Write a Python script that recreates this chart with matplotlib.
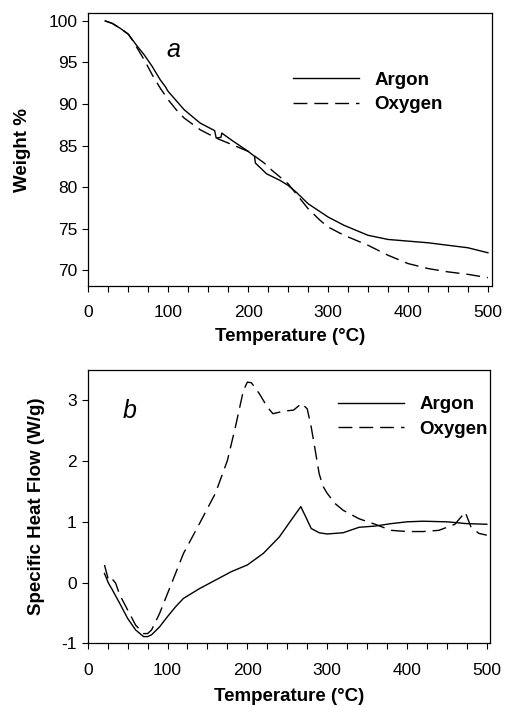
import numpy as np
import matplotlib
matplotlib.use("Agg")
import matplotlib.pyplot as plt

plt.rcParams['font.family'] = ['Liberation Sans', 'DejaVu Sans']
plt.rcParams['axes.unicode_minus'] = False

# TGA: weight loss vs temperature
tga_temp_ar = [21, 30, 40, 50, 60, 70, 80, 90, 97, 98, 100, 120, 140, 158, 160, 166, 167, 180, 200, 208, 209,
               223, 240, 250, 260, 275, 300, 320, 350, 375, 400, 425, 450, 475, 500]
tga_wt_ar = [100.0, 99.7, 99.1, 98.4, 97.1, 95.9, 94.5, 92.9, 92.0, 91.8, 91.5, 89.3, 87.7, 86.8, 85.9, 86.0, 86.5,
             85.6, 84.3, 83.7, 82.9, 81.6, 80.8, 80.2, 79.4, 78.0, 76.4, 75.4, 74.2, 73.7, 73.5, 73.3, 73.0, 72.7, 72.1]

tga_temp_ox = [21, 30, 40, 50, 55, 60, 70, 80, 90, 100, 110, 120, 140, 160, 180, 200, 220, 230, 240, 250, 260,
               275, 290, 300, 320, 350, 375, 400, 425, 450, 475, 500]
tga_wt_ox = [100.0, 99.7, 99.1, 98.4, 97.7, 96.9, 95.3, 93.5, 91.9, 90.5, 89.3, 88.3, 86.9, 85.9, 85.1, 84.3,
             82.9, 82.0, 81.2, 80.4, 79.2, 77.4, 76.0, 75.2, 74.2, 73.0, 71.8, 70.8, 70.2, 69.8, 69.5, 69.1]

# DSC: specific heat flow vs temperature
dsc_temp_ar = [21, 26, 30, 40, 50, 60, 70, 75, 80, 90, 100, 110, 120, 140, 160, 180, 200, 220, 240, 255, 267,
               275, 280, 290, 300, 320, 340, 360, 380, 400, 420, 450, 475, 500]
dsc_hf_ar = [0.15, -0.01, -0.10, -0.34, -0.59, -0.78, -0.89, -0.89, -0.86, -0.73, -0.56, -0.40, -0.26, -0.10,
             0.04, 0.18, 0.29, 0.48, 0.75, 1.03, 1.25, 1.03, 0.89, 0.82, 0.80, 0.82, 0.91, 0.93, 0.97, 1.00,
             1.01, 1.00, 0.97, 0.96]

dsc_temp_ox = [21, 26, 30, 35, 40, 50, 60, 70, 75, 80, 90, 100, 110, 120, 140, 160, 175, 185, 195, 200, 205,
               215, 225, 232, 245, 258, 268, 275, 280, 285, 290, 295, 300, 310, 320, 340, 360, 380, 400, 420,
               440, 460, 473, 480, 490, 500]
dsc_hf_ox = [0.29, 0.04, 0.07, -0.01, -0.20, -0.45, -0.70, -0.84, -0.84, -0.78, -0.51, -0.18, 0.15, 0.48, 0.97,
             1.47, 2.01, 2.56, 3.16, 3.30, 3.29, 3.11, 2.89, 2.78, 2.82, 2.84, 2.95, 2.86, 2.56, 2.18, 1.79,
             1.58, 1.47, 1.30, 1.19, 1.05, 0.96, 0.86, 0.84, 0.84, 0.86, 0.96, 1.16, 0.92, 0.81, 0.78]

fig = plt.figure(figsize=(5.05, 7.07), dpi=100)
ax1 = fig.add_axes([0.175, 0.5955, 0.799, 0.3855])
ax2 = fig.add_axes([0.1737, 0.0901, 0.7966, 0.3866])

dash = (0, (10, 5))
lw = 1.0
bold = {'weight': 'bold', 'size': 13.5}
leg_kw = dict(loc='upper left', frameon=False, prop=bold, borderpad=0, borderaxespad=0,
              handlelength=3.5, handletextpad=0.85, labelspacing=0.4)

ax1.plot(tga_temp_ar, tga_wt_ar, color='black', lw=lw, label='Argon')
ax1.plot(tga_temp_ox, tga_wt_ox, color='black', lw=lw, linestyle=dash, label='Oxygen')
ax1.set_xlim(0, 505)
ax1.set_ylim(68.1, 100.9)
ax1.set_yticks([70, 75, 80, 85, 90, 95, 100])
ax1.set_ylabel('Weight %', fontsize=13.5, fontweight='bold')
ax1.yaxis.set_label_coords(-0.142, 0.5)
ax1.text(0.21, 0.84, 'a', transform=ax1.transAxes, fontsize=18, style='italic', ha='center', va='baseline')
ax1.legend(bbox_to_anchor=(0.507, 0.787), **leg_kw)

ax2.plot(dsc_temp_ar, dsc_hf_ar, color='black', lw=lw, label='Argon')
ax2.plot(dsc_temp_ox, dsc_hf_ox, color='black', lw=lw, linestyle=dash, label='Oxygen')
ax2.set_xlim(0, 504)
ax2.set_ylim(-1, 3.5)
ax2.set_yticks([-1, 0, 1, 2, 3])
ax2.set_ylabel('Specific Heat Flow (W/g)', fontsize=13.5, fontweight='bold')
ax2.yaxis.set_label_coords(-0.107, 0.5)
ax2.text(0.103, 0.824, 'b', transform=ax2.transAxes, fontsize=18, style='italic', ha='center', va='baseline')
ax2.legend(bbox_to_anchor=(0.622, 0.904), **leg_kw)

for ax in (ax1, ax2):
    ax.set_xticks([0, 100, 200, 300, 400, 500])
    ax.set_xticks(np.arange(0, 501, 25), minor=True)
    ax.set_xlabel('Temperature (°C)', fontsize=13.5, fontweight='bold')
    ax.tick_params(axis='both', which='major', direction='out', length=4, width=0.8, labelsize=12.5,
                   top=False, right=False)
    ax.tick_params(axis='x', which='major', pad=10)
    ax.tick_params(axis='y', which='major', pad=4)
    ax.tick_params(axis='x', which='minor', direction='out', length=4, width=0.8, top=False)
    ax.tick_params(axis='y', which='minor', left=False, right=False)
    for s in ax.spines.values():
        s.set_linewidth(0.9)

ax1.xaxis.set_label_coords(0.5, -0.154)
ax2.xaxis.set_label_coords(0.5, -0.164)

fig.savefig('out.png', dpi=100)
